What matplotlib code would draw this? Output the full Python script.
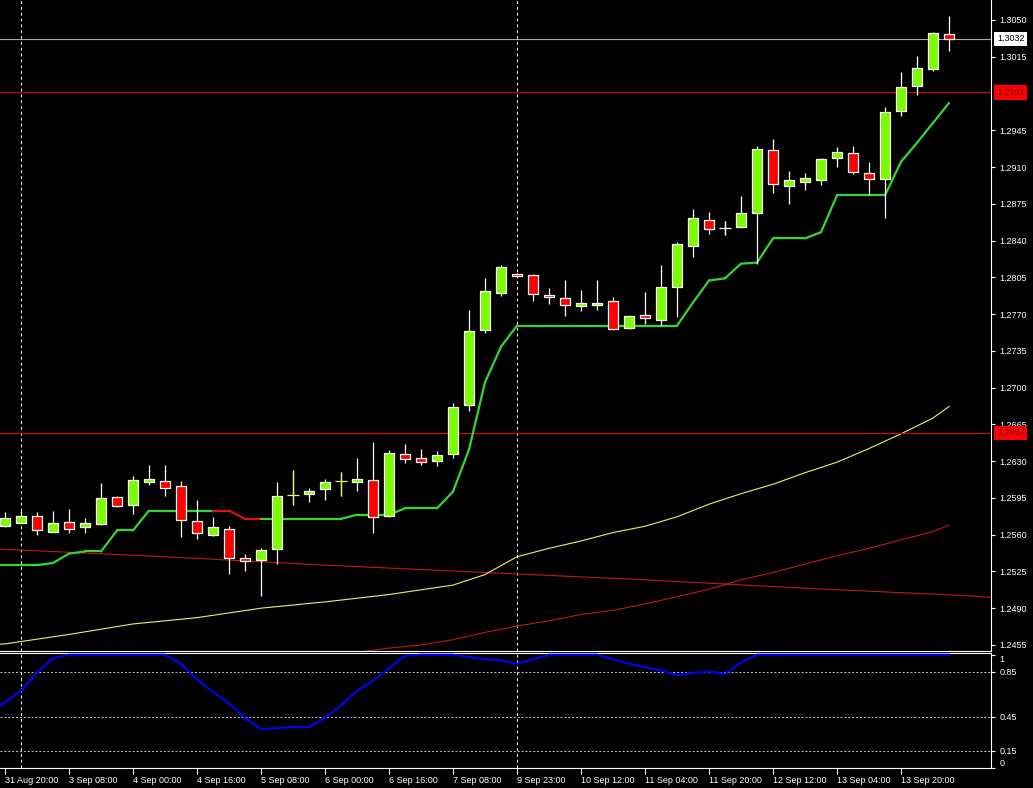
import numpy as np
import matplotlib
matplotlib.use("Agg")
import matplotlib.pyplot as plt
from matplotlib.collections import LineCollection
from matplotlib.transforms import blended_transform_factory

# ---- H4 candles, oldest first (index 0 = first bar on screen) ----
opens = [1.2568, 1.2571, 1.2578, 1.2563, 1.2572, 1.2567, 1.2570, 1.2596, 1.2588, 1.2610,
         1.2611, 1.2606, 1.2573, 1.2560, 1.2565, 1.2538, 1.2536, 1.2546, 1.2598, 1.2599,
         1.2603, 1.2611, 1.2610, 1.2612, 1.2578, 1.2637, 1.2633, 1.2630, 1.2637, 1.2683,
         1.2755, 1.2790, 1.2808, 1.2807, 1.2788, 1.2785, 1.2778, 1.2779, 1.2782, 1.2757,
         1.2769, 1.2764, 1.2796, 1.2835, 1.2860, 1.2852, 1.2853, 1.2866, 1.2926, 1.2892,
         1.2896, 1.2898, 1.2919, 1.2923, 1.2904, 1.2899, 1.2963, 1.2987, 1.3003, 1.3037]
highs = [1.2582, 1.2583, 1.2582, 1.2583, 1.2584, 1.2576, 1.2609, 1.2597, 1.2616, 1.2626,
         1.2626, 1.2611, 1.2593, 1.2577, 1.2568, 1.2542, 1.2547, 1.2610, 1.2622, 1.2604,
         1.2613, 1.2620, 1.2633, 1.2648, 1.2641, 1.2646, 1.2642, 1.2640, 1.2685, 1.2774,
         1.2804, 1.2817, 1.2809, 1.2808, 1.2795, 1.2802, 1.2793, 1.2802, 1.2786, 1.2769,
         1.2791, 1.2817, 1.2839, 1.2870, 1.2867, 1.2859, 1.2882, 1.2930, 1.2937, 1.2906,
         1.2904, 1.2919, 1.2929, 1.2930, 1.2915, 1.2967, 1.3000, 1.3016, 1.3039, 1.3054]
lows = [1.2567, 1.2571, 1.2560, 1.2563, 1.2562, 1.2562, 1.2569, 1.2586, 1.2580, 1.2607,
        1.2597, 1.2558, 1.2556, 1.2559, 1.2523, 1.2525, 1.2502, 1.2532, 1.2588, 1.2591,
        1.2593, 1.2597, 1.2602, 1.2562, 1.2577, 1.2628, 1.2626, 1.2625, 1.2633, 1.2678,
        1.2752, 1.2787, 1.2805, 1.2782, 1.2780, 1.2768, 1.2773, 1.2774, 1.2755, 1.2756,
        1.2761, 1.2759, 1.2767, 1.2824, 1.2846, 1.2845, 1.2852, 1.2818, 1.2885, 1.2875,
        1.2888, 1.2893, 1.2910, 1.2903, 1.2883, 1.2861, 1.2959, 1.2979, 1.3001, 1.3020]
closes = [1.2576, 1.2578, 1.2564, 1.2571, 1.2565, 1.2571, 1.2595, 1.2587, 1.2612, 1.2613,
          1.2604, 1.2574, 1.2562, 1.2567, 1.2538, 1.2535, 1.2545, 1.2597, 1.2598, 1.2602,
          1.2610, 1.2611, 1.2613, 1.2577, 1.2638, 1.2632, 1.2629, 1.2636, 1.2682, 1.2754,
          1.2792, 1.2815, 1.2806, 1.2789, 1.2786, 1.2779, 1.2781, 1.2781, 1.2756, 1.2768,
          1.2766, 1.2796, 1.2837, 1.2861, 1.2851, 1.2852, 1.2866, 1.2927, 1.2894, 1.2898,
          1.2900, 1.2918, 1.2924, 1.2905, 1.2899, 1.2962, 1.2986, 1.3004, 1.3038, 1.3032]

# trailing stop line (starts one bar left of the screen)
trail = [1.2531, 1.2531, 1.2531, 1.2531, 1.2533, 1.2542, 1.2544, 1.2544, 1.2564, 1.2564,
         1.2583, 1.2583, 1.2583, 1.2583, 1.2583, 1.2583, 1.2575, 1.2575, 1.2575, 1.2575,
         1.2575, 1.2575, 1.2575, 1.2579, 1.2579, 1.2579, 1.2585, 1.2585, 1.2585, 1.2601,
         1.2641, 1.2705, 1.2739, 1.2759, 1.2759, 1.2759, 1.2759, 1.2759, 1.2759, 1.2759,
         1.2759, 1.2759, 1.2759, 1.2759, 1.2781, 1.2802, 1.2804, 1.2818, 1.2819, 1.2842,
         1.2842, 1.2842, 1.2848, 1.2883, 1.2883, 1.2883, 1.2883, 1.2915, 1.2933, 1.2952,
         1.2971]
trail_down = [13, 14, 15]   # bars where the stop is in sell mode

# moving averages: (bar index, value)
ma_fast_idx = [-1, 0, 4, 8, 12, 16, 20, 24, 28, 30, 32, 34, 36, 38, 40, 42, 44, 46, 48, 50,
               52, 54, 56, 58, 59]
ma_fast = [1.2455, 1.2456, 1.2465, 1.2475, 1.2481, 1.2490, 1.2496, 1.2503, 1.2512, 1.2522,
           1.2539, 1.2547, 1.2554, 1.2562, 1.2568, 1.2577, 1.2589, 1.2599, 1.2608, 1.2619,
           1.2629, 1.2642, 1.2656, 1.2671, 1.2682]
ma_mid_idx = [20, 23, 24, 26, 28, 30, 32, 34, 36, 38, 40, 42, 44, 46, 48, 50, 52, 54, 56, 58, 59]
ma_mid = [1.2444, 1.2450, 1.2452, 1.2455, 1.2460, 1.2467, 1.2473, 1.2478, 1.2484, 1.2488,
          1.2494, 1.2501, 1.2508, 1.2517, 1.2524, 1.2532, 1.2540, 1.2547, 1.2555, 1.2563, 1.2569]
ma_slow_idx = [-1, 0, 10, 20, 30, 40, 50, 60, 62]
ma_slow = [1.2547, 1.2546, 1.2539, 1.2531, 1.2524, 1.2517, 1.2509, 1.2502, 1.2500]

# oscillator in lower window (starts one bar left of the screen)
osc = [0.47, 0.58, 0.68, 0.84, 0.97, 1.0, 1.0, 1.0, 1.0, 1.0, 1.0, 1.0, 0.92, 0.78, 0.67,
       0.57, 0.44, 0.34, 0.35, 0.36, 0.36, 0.44, 0.55, 0.68, 0.77, 0.88, 0.99, 1.0, 1.0, 1.0,
       0.98, 0.96, 0.95, 0.92, 0.96, 1.0, 1.0, 1.0, 1.0, 0.96, 0.92, 0.89, 0.86, 0.82, 0.84,
       0.85, 0.83, 0.93, 1.0, 1.0, 1.0, 1.0, 1.0, 1.0, 1.0, 1.0, 1.0, 1.0, 1.0, 1.0, 1.0]
osc_levels = [0.85, 0.45, 0.15]

bid = 1.3032
level_lines = [1.2981, 1.2657]
separators = [1, 32]

price_ticks = [1.3050, 1.3015, 1.2945, 1.2910, 1.2875, 1.2840, 1.2805, 1.2770, 1.2735,
               1.2700, 1.2665, 1.2630, 1.2595, 1.2560, 1.2525, 1.2490, 1.2455]
time_labels = ["31 Aug 20:00", "3 Sep 08:00", "4 Sep 00:00", "4 Sep 16:00", "5 Sep 08:00",
               "6 Sep 00:00", "6 Sep 16:00", "7 Sep 08:00", "9 Sep 23:00", "10 Sep 12:00",
               "11 Sep 04:00", "11 Sep 20:00", "12 Sep 12:00", "13 Sep 04:00", "13 Sep 20:00"]

plt.rcParams["font.family"] = ["Liberation Sans", "DejaVu Sans"]
FS = 6.5
W, H = 1033, 788

fig = plt.figure(figsize=(W / 100, H / 100), dpi=100, facecolor="black")
ax = fig.add_axes([0, 1 - 651 / H, 991 / W, 651 / H], facecolor="black")
axi = fig.add_axes([0, 1 - 768 / H, 991 / W, (768 - 653) / H], facecolor="black", sharex=ax)

o, h, l, c = (np.array(a) for a in (opens, highs, lows, closes))
idx = np.arange(len(o))

# moving averages
ax.plot(ma_slow_idx, ma_slow, color="#c01818", lw=0.8, zorder=1)
ax.plot(ma_mid_idx, ma_mid, color="#c01818", lw=0.8, zorder=1)
ax.plot(ma_fast_idx, ma_fast, color="#f0f060", lw=0.8, zorder=1)

# horizontal levels
ax.axhline(bid, color="#a8a8a8", lw=0.8, zorder=1)
for lv in level_lines:
    ax.axhline(lv, color="#e00000", lw=0.8, zorder=1)

# trailing stop, coloured by mode
t_idx = np.arange(-1, len(trail) - 1)
pts = np.column_stack([t_idx, trail])
segs = np.stack([pts[:-1], pts[1:]], axis=1)
seg_cols = ["#e01010" if i in trail_down else "#33d633" for i in t_idx[:-1]]
ax.add_collection(LineCollection(segs, colors=seg_cols, linewidths=1.6,
                                 capstyle="round", zorder=2))

# candles
ax.vlines(idx, l, h, color="white", lw=0.9, zorder=3)
up, dn, flat = c > o, c < o, c == o
ax.bar(idx[up], (c - o)[up], bottom=o[up], width=0.66, color="#7cfc00",
       edgecolor="white", linewidth=0.9, zorder=4)
ax.bar(idx[dn], (o - c)[dn], bottom=c[dn], width=0.66, color="#ff0000",
       edgecolor="white", linewidth=0.9, zorder=4)
yellow_doji = {18, 21}
for i in idx[flat]:
    col = "#f0f060" if i in yellow_doji else "white"
    ax.vlines(i, l[i], h[i], color=col, lw=0.9, zorder=5)
    ax.hlines(o[i], i - 0.35, i + 0.35, color=col, lw=0.9, zorder=5)

for s in separators:
    ax.axvline(s, color="white", ls=(0, (3, 3)), lw=0.7, zorder=0)
    axi.axvline(s, color="white", ls=(0, (3, 3)), lw=0.7, zorder=0)

ax.set_xlim(-5 / 16, 986 / 16)
ax.set_ylim(1.30690 - 651 * 0.0000952, 1.30690)

# right price scale
ax.yaxis.tick_right()
ax.set_yticks(price_ticks)
ax.set_yticklabels([f"{v:.4f}" for v in price_ticks])
ax.tick_params(axis="y", colors="white", labelsize=FS, length=3, width=0.8, pad=3)
ax.tick_params(axis="x", bottom=False, labelbottom=False)
for side in ("left", "top"):
    ax.spines[side].set_visible(False)
for side in ("right", "bottom"):
    ax.spines[side].set_color("white")
    ax.spines[side].set_linewidth(0.8)

trans = blended_transform_factory(ax.transAxes, ax.transData)
ax.text(1 + 6 / 991, bid, f"{bid:.4f}", transform=trans, ha="left", va="center",
        fontsize=FS, color="black", clip_on=False, zorder=10,
        bbox=dict(boxstyle="square,pad=0.3", fc="white", ec="none"))
for lv in level_lines:
    ax.text(1 + 6 / 991, lv, f"{lv:.4f}", transform=trans, ha="left", va="center",
            fontsize=FS, color="#700000", clip_on=False, zorder=10,
            bbox=dict(boxstyle="square,pad=0.3", fc="#ff0000", ec="none"))

# oscillator window
o_idx = np.arange(-1, len(osc) - 1)
axi.plot(o_idx, osc, color="#0000ff", lw=1.5, zorder=3)
for lv in osc_levels:
    axi.axhline(lv, color="#c8c8c8", ls=(0, (2, 2)), lw=0.7, zorder=1)
axi.set_ylim(-0.004, 1.015)
axi.yaxis.tick_right()
axi.set_yticks([1, 0.85, 0.45, 0.15, 0])
axi.set_yticklabels(["1", "0.85", "0.45", "0.15", "0"])
axi.tick_params(axis="y", colors="white", labelsize=FS, length=3, width=0.8, pad=3)
ticks = axi.yaxis.get_major_ticks()
ticks[0].label2.set_va("top")
ticks[-1].label2.set_va("bottom")

axi.set_xticks(np.arange(0, 4 * len(time_labels), 4))
axi.set_xticklabels(time_labels)
axi.tick_params(axis="x", colors="white", labelsize=FS, length=4, width=0.8, pad=2)
for t in axi.get_xticklabels():
    t.set_ha("left")
axi.spines["left"].set_visible(False)
for side in ("top", "right", "bottom"):
    axi.spines[side].set_color("white")
    axi.spines[side].set_linewidth(0.8)

fig.savefig("out.png", dpi=100, facecolor="black")
